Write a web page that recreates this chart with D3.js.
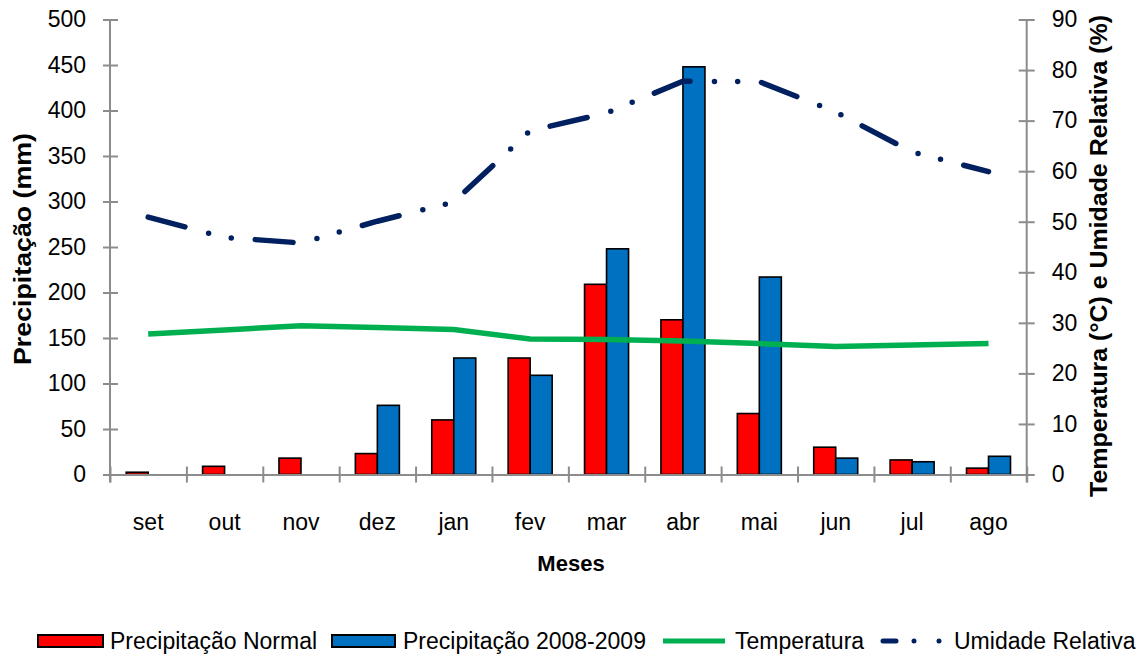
<html>
<head>
<meta charset="utf-8">
<script src="https://d3js.org/d3.v7.min.js"></script>
<style>
  body { margin: 0; background: #fff; }
  text { font-family: "Liberation Sans", Arial, sans-serif; fill: #000; }
</style>
</head>
<body>
<script>
// chart data
const months = ["set", "out", "nov", "dez", "jan", "fev", "mar", "abr", "mai", "jun", "jul", "ago"];
const precipNormal = [2.5, 9, 18, 23, 60, 128, 209, 170, 67, 30, 16, 7];
const precip0809 = [0, 0, 0, 76, 128, 109, 248, 448, 217, 18, 14, 20];
const temperatura = [27.8, 28.6, 29.4, 29.1, 28.7, 26.8, 26.7, 26.4, 25.9, 25.3, 25.6, 25.9];
const umidade = [50.9, 46.9, 45.8, 50.1, 53.9, 68, 71.5, 77.8, 77.7, 71.7, 63.8, 59.9];
const leftTicks = d3.range(0, 501, 50);
const rightTicks = d3.range(0, 91, 10);
const seriesNames = ["Precipitação Normal", "Precipitação 2008-2009", "Temperatura", "Umidade Relativa"];

const W = 1145, H = 655;
const plotL = 110, plotR = 1026.7, plotT = 19.5, plotB = 474.5;
const axisColor = "#8c8c8c";

const svg = d3.select("body").append("svg").attr("width", W).attr("height", H);

const x0 = d3.scaleBand().domain(months).range([plotL, plotR]).padding(0);
const x1 = d3.scaleBand().domain([0, 1]).range([0, x0.bandwidth()]).paddingInner(0).paddingOuter(0.736);
const xb = d3.scaleLinear().domain([0, 12]).range([plotL, plotR]);
const yL = d3.scaleLinear().domain([0, 500]).range([plotB, plotT]);
const yR = d3.scaleLinear().domain([0, 90]).range([plotB, plotT]);

// bars
const barData = months.map((m, i) => [
  { m, s: 0, v: precipNormal[i] },
  { m, s: 1, v: precip0809[i] }
]);
svg.append("g").selectAll("g").data(barData).enter().append("g")
  .attr("transform", d => `translate(${x0(d[0].m)},0)`)
  .selectAll("rect").data(d => d.filter(b => b.v > 0)).enter().append("rect")
  .attr("x", d => x1(d.s))
  .attr("width", x1.bandwidth())
  .attr("y", d => yL(d.v))
  .attr("height", d => yL(0) - yL(d.v))
  .attr("fill", d => d.s === 0 ? "#ff0000" : "#0070c0")
  .attr("stroke", "#000")
  .attr("stroke-width", 1.6);

// axes
function styleAxis(g) {
  g.select(".domain").attr("stroke", axisColor).attr("stroke-width", 2);
  g.selectAll(".tick line").attr("stroke", axisColor).attr("stroke-width", 2);
  g.selectAll("text").style("font-size", "23px").attr("fill", "#000");
}

const gL = svg.append("g").attr("transform", `translate(${plotL},0)`)
  .call(d3.axisLeft(yL).tickValues(leftTicks).tickSizeOuter(0).tickSizeInner(7).tickPadding(17));
styleAxis(gL);
gL.selectAll(".tick line").attr("x2", 8).attr("x1", -7);
gL.select(".domain").attr("d", `M0,${plotT}V${plotB + 8}`);

const gR = svg.append("g").attr("transform", `translate(${plotR},0)`)
  .call(d3.axisRight(yR).tickValues(rightTicks).tickSizeOuter(0).tickSizeInner(8).tickPadding(17));
styleAxis(gR);
gR.selectAll(".tick line").attr("x1", -8).attr("x2", 8);
gR.select(".domain").attr("d", `M0,${plotT}V${plotB + 8}`);

const gB = svg.append("g").attr("transform", `translate(0,${plotB})`)
  .call(d3.axisBottom(xb).ticks(12).tickFormat("").tickSizeOuter(0).tickSizeInner(8));
styleAxis(gB);
gB.selectAll(".tick line").attr("y1", -8).attr("y2", 8);

const gM = svg.append("g").attr("transform", `translate(0,${plotB})`)
  .call(d3.axisBottom(x0).tickSize(0).tickPadding(39));
gM.select(".domain").remove();
gM.selectAll("text").style("font-size", "23px");

// lines
const pts = months.map((m, i) => i);
const lineT = d3.line().x(i => x0(months[i]) + x0.bandwidth() / 2).y(i => yR(temperatura[i]));
const lineU = d3.line().x(i => x0(months[i]) + x0.bandwidth() / 2).y(i => yR(umidade[i]));

svg.append("path").datum(pts).attr("d", lineT)
  .attr("fill", "none").attr("stroke", "#00b050").attr("stroke-width", 5.5);
svg.append("path").datum(pts).attr("d", lineU)
  .attr("fill", "none").attr("stroke", "#002060").attr("stroke-width", 5.5)
  .attr("stroke-linecap", "round")
  .attr("stroke-dasharray", "38,24.5,0,23.2,0,24");

// axis titles
svg.append("text").attr("x", 571).attr("y", 571).attr("text-anchor", "middle")
  .style("font-size", "22px").style("font-weight", "bold").text("Meses");

svg.append("text").attr("transform", "translate(31,249) rotate(-90)")
  .attr("text-anchor", "middle").style("font-size", "23px").style("font-weight", "bold")
  .attr("textLength", 232).attr("lengthAdjust", "spacingAndGlyphs")
  .text("Precipitação (mm)");

svg.append("text").attr("transform", "translate(1107,256) rotate(-90)")
  .attr("text-anchor", "middle").style("font-size", "23px").style("font-weight", "bold")
  .attr("textLength", 482).attr("lengthAdjust", "spacingAndGlyphs")
  .text("Temperatura (°C) e Umidade Relativa (%)");

// legend
const lg = svg.append("g");
const ly = 641;
lg.append("rect").attr("x", 38).attr("y", ly - 6).attr("width", 65).attr("height", 12)
  .attr("fill", "#ff0000").attr("stroke", "#000").attr("stroke-width", 2);
lg.append("text").attr("x", 110).attr("y", ly + 8).style("font-size", "23px").text(seriesNames[0]);
lg.append("rect").attr("x", 332).attr("y", ly - 6).attr("width", 63).attr("height", 12)
  .attr("fill", "#0070c0").attr("stroke", "#000").attr("stroke-width", 2);
lg.append("text").attr("x", 403).attr("y", ly + 8).style("font-size", "23px").text(seriesNames[1]);
lg.append("line").attr("x1", 663).attr("x2", 725).attr("y1", ly).attr("y2", ly)
  .attr("stroke", "#00b050").attr("stroke-width", 5);
lg.append("text").attr("x", 735).attr("y", ly + 8).style("font-size", "23px").text(seriesNames[2]);
lg.append("line").attr("x1", 883).attr("x2", 945).attr("y1", ly).attr("y2", ly)
  .attr("stroke", "#002060").attr("stroke-width", 5).attr("stroke-linecap", "round")
  .attr("stroke-dasharray", "13,18,0,25,0,40");
lg.append("text").attr("x", 954).attr("y", ly + 8).style("font-size", "23px").text(seriesNames[3]);
</script>
</body>
</html>
